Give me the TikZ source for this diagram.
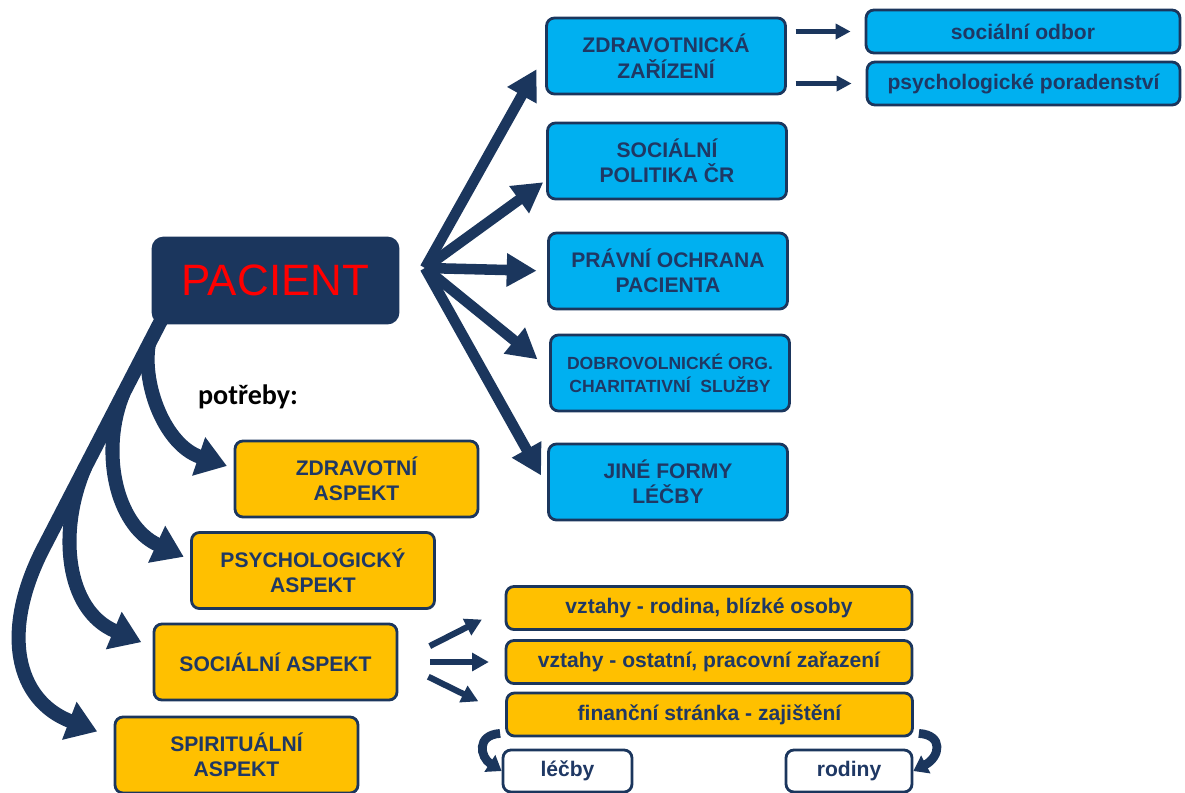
\documentclass[tikz,border=0pt]{standalone}
\usepackage{fontspec}
\setmainfont{Liberation Sans}
\newfontfamily\calibri{Carlito}
\usetikzlibrary{arrows.meta,calc}
\definecolor{tmava}{HTML}{1B365D}
\definecolor{modra}{HTML}{00B0F0}
\definecolor{zluta}{HTML}{FFC000}
\definecolor{pismo}{HTML}{1F3864}

\begin{document}
\begin{tikzpicture}[x=0.02cm, y=-0.02cm,
	box/.style={draw=tmava, line width=1.6pt, rounded corners=4.5pt, text=pismo, align=center, inner sep=0pt,
		font=\bfseries\fontsize{12}{14.5}\selectfont},
	modrybox/.style={box, fill=modra, minimum width=4.78cm, minimum height=1.52cm},
	zlutybox/.style={box, fill=zluta, minimum width=4.86cm, minimum height=1.52cm},
	radek/.style={box, fill=zluta, minimum width=8.12cm, minimum height=0.86cm},
	bily/.style={box, fill=white, minimum height=0.84cm},
	vejir/.style={tmava, line width=6pt, -{Triangle[length=17pt, width=18pt]}},
	oblouk/.style={tmava, line width=8pt, -{Triangle[length=17pt, width=22pt]}},
	sipka/.style={tmava, line width=2.5pt, -{Triangle[length=8.5pt, width=8.5pt]}},
	stredni/.style={tmava, line width=3.5pt, -{Triangle[length=9.5pt, width=10pt]}},
	zahyb/.style={tmava, line width=5pt, -{Triangle[length=8pt, width=11pt]}}]
	\useasboundingbox (0,0) rectangle (1185,792);
	
	% Pacient
	\node[box, fill=tmava, minimum width=4.9cm, minimum height=1.7cm, rounded corners=6pt, text=red,
		font=\fontsize{25}{30}\selectfont] (pac) at (275.5,280.5) {PACIENT};
	
	% Instituce (modre)
	\node[modrybox] (zz) at (666,56) {ZDRAVOTNICKÁ\\ZAŘÍZENÍ};
	\node[modrybox] (sp) at (667,161) {SOCIÁLNÍ\\POLITIKA ČR};
	\node[modrybox] (po) at (668,271) {PRÁVNÍ OCHRANA\\PACIENTA};
	\node[modrybox, font=\bfseries\fontsize{10}{13}\selectfont] (dob) at (670,373) {DOBROVOLNICKÉ ORG.\\CHARITATIVNÍ\ \ SLUŽBY};
	\node[modrybox] (jf) at (668,482) {JINÉ FORMY\\LÉČBY};
	\node[box, fill=modra, minimum width=6.28cm, minimum height=0.86cm] (so) at (1023,31.5) {sociální odbor};
	\node[box, fill=modra, minimum width=6.26cm, minimum height=0.86cm] (pp) at (1023.5,83.5) {psychologické poradenství};
	
	% Potreby (zlute)
	\node[font=\calibri\bfseries\fontsize{16}{19}\selectfont] (potr) at (248,397) {potřeby:};
	\node[zlutybox] (za) at (356.5,479) {ZDRAVOTNÍ\\ASPEKT};
	\node[zlutybox] (pa) at (313,570.5) {PSYCHOLOGICKÝ\\ASPEKT};
	\node[zlutybox] (sa) at (275.5,662) {SOCIÁLNÍ ASPEKT};
	\node[zlutybox] (spa) at (236.5,755) {SPIRITUÁLNÍ\\ASPEKT};
	
	% Socialni aspekt - podrobnosti
	\node[radek] (vr) at (709,608) {vztahy - rodina, blízké osoby};
	\node[radek] (vo) at (709,662) {vztahy - ostatní, pracovní zařazení};
	\node[radek] (fs) at (709.5,714.5) {finanční stránka - zajištění};
	\node[bily, minimum width=2.58cm] (lc) at (567.5,771) {léčby};
	\node[bily, minimum width=2.52cm] (rd) at (849,771) {rodiny};
	
	% Vejir sipek doprava
	\coordinate (hub) at (425,268);
	\foreach \cil/\zkrat in {zz.179/10pt, sp.189/2pt, po.west/6pt, dob.178/8.5pt, jf.182/7pt}
		\draw[vejir, shorten >=\zkrat] (hub) -- (\cil);
	
	% Oblouky k potrebam
	\coordinate (kmen) at ($(pac.south west)+(10,-5)$);
	\coordinate (ohyb) at (45,545);
	\coordinate (ka) at ($(kmen)!0.11!(ohyb)$);
	\coordinate (kb) at ($(kmen)!0.326!(ohyb)$);
	\coordinate (kc) at ($(kmen)!0.656!(ohyb)$);
	\draw[oblouk, shorten >=10pt] (kmen) -- (ohyb) .. controls (0,630) and (15,700) .. (spa.172);
	\draw[oblouk, shorten >=4pt] (ka) .. controls (142,385) and (165,445) .. (za.175);
	\draw[oblouk, shorten >=4pt] (kb) .. controls (100,450) and (115,525) .. (pa.175);
	\draw[oblouk, shorten >=7pt] (kc) .. controls (58,530) and (65,610) .. (sa.173);
	
	% Male sipky
	\draw[sipka, shorten <=5pt, shorten >=8pt] (zz.east |- so.west) -- (so.west);
	\draw[sipka, shorten <=5pt, shorten >=8pt] (zz.east |- pp.west) -- (pp.west);
	\draw[stredni, shorten <=20pt, shorten >=14.5pt] (sa.east) -- (vr.west);
	\draw[stredni, shorten <=18pt, shorten >=9pt] (sa.east) -- (vo.west);
	\draw[stredni, shorten <=19pt, shorten >=17pt] (sa.east) -- (fs.west);
	
	% Zahnute sipky
	\draw[zahyb] ($(fs.south west)+(-5,-4)$) .. controls (476,735) and (480,757) .. (lc.west);
	\draw[zahyb] ($(fs.south east)+(5,-4)$) .. controls (944,735) and (940,757) .. (rd.east);
\end{tikzpicture}
\end{document}
